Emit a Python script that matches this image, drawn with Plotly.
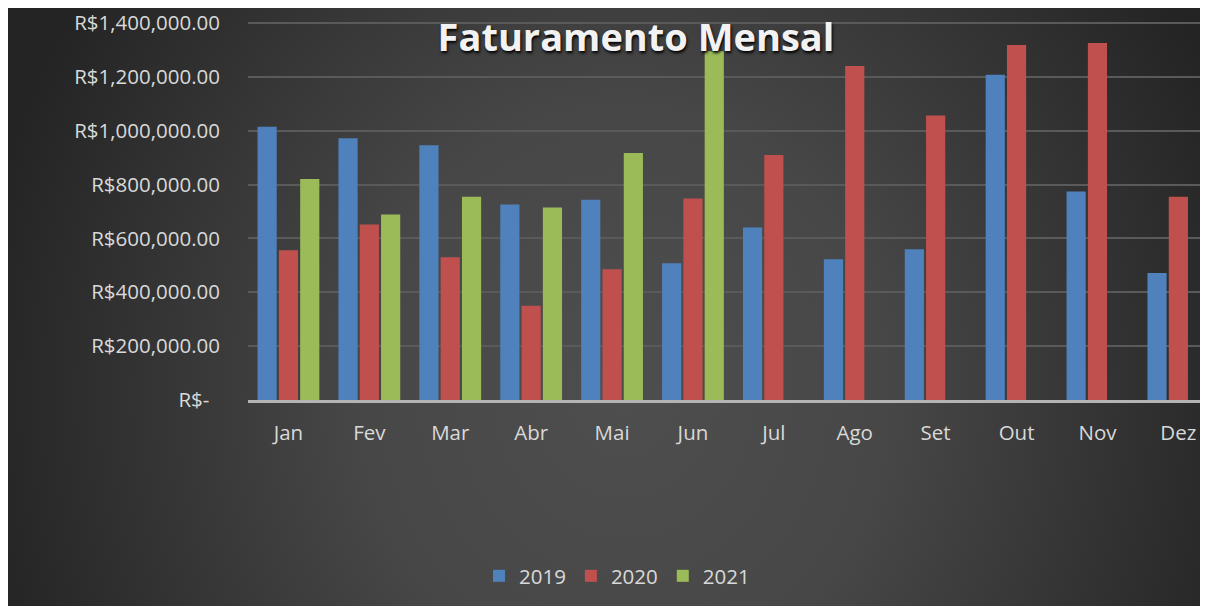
import base64
import plotly.graph_objects as go

months = ["Jan", "Fev", "Mar", "Abr", "Mai", "Jun", "Jul", "Ago", "Set", "Out", "Nov", "Dez"]
v2019 = [1015000, 972000, 946000, 726000, 744000, 508000, 641000, 523000, 560000, 1208000, 774000, 472000]
v2020 = [556000, 652000, 530000, 350000, 486000, 748000, 910000, 1241000, 1057000, 1319000, 1326000, 755000]
v2021 = [821000, 689000, 755000, 715000, 917000, 1295000, None, None, None, None, None, None]
tick_vals = [0, 200000, 400000, 600000, 800000, 1000000, 1200000, 1400000]
tick_text = ["R$-\u00a0\u00a0", "R$200,000.00", "R$400,000.00", "R$600,000.00", "R$800,000.00",
             "R$1,000,000.00", "R$1,200,000.00", "R$1,400,000.00"]

# figure is placed by the page at an 8px offset
W, H = 1192, 598
L, R, T, B = 240, 0, 14, 206
pw, ph = W - L - R, H - T - B
cat_px = 80.9

svg = """<svg xmlns='http://www.w3.org/2000/svg' width='1200' height='600' viewBox='0 0 1200 600' preserveAspectRatio='none'>
<defs><radialGradient id='g' gradientUnits='userSpaceOnUse' cx='0' cy='0' r='1' gradientTransform='translate(620 390) scale(660 720)'>
<stop offset='0' stop-color='#4e4e4e'/><stop offset='0.4' stop-color='#474747'/><stop offset='1' stop-color='#242424'/>
</radialGradient></defs><rect width='1200' height='600' fill='url(#g)'/></svg>"""
src = "data:image/svg+xml;base64," + base64.b64encode(svg.encode()).decode()

font_fam = "Open Sans"
txt_col = "#d9d9d9"
fs = 20.5

fig = go.Figure()
for name, vals, col in [("2019", v2019, "#4f81bd"), ("2020", v2020, "#c0504d"), ("2021", v2021, "#9bbb59")]:
    fig.add_trace(go.Bar(x=months, y=vals, name=name, marker=dict(color=col, line=dict(width=0))))

fig.update_layout(
    width=W, height=H,
    margin=dict(l=L, r=R, t=T, b=B, pad=0, autoexpand=False),
    paper_bgcolor="#2c2c2c",
    plot_bgcolor="rgba(0,0,0,0)",
    barmode="group", bargap=0.21, bargroupgap=0.1,
    font=dict(family=font_fam, color=txt_col, size=fs),
    title=dict(text="<b>Faturamento Mensal</b>", x=(628 - L) / pw, xref="paper", xanchor="center",
               y=1 - 29.5 / H, yref="container", yanchor="middle",
               font=dict(family=font_fam, size=38, color="#f2f2f2", shadow="1px 2px 3px #000")),
    legend=dict(orientation="h", x=(609 - L) / pw, xanchor="center", y=(T + ph - 568) / ph, yanchor="middle",
                font=dict(size=fs, color=txt_col), bgcolor="rgba(0,0,0,0)", itemwidth=30, traceorder="normal"),
    images=[dict(source=src, xref="paper", yref="paper", x=-L / pw, y=(T + ph) / ph,
                 sizex=W / pw, sizey=H / ph, xanchor="left", yanchor="top",
                 sizing="stretch", layer="below")],
    showlegend=True,
)

fig.update_xaxes(range=[-0.5, pw / cat_px - 0.5], showgrid=False, showline=True, linecolor="#b4b4b4",
                 linewidth=3, ticks="", tickfont=dict(size=fs, color=txt_col), ticklabelstandoff=12,
                 fixedrange=True, automargin=False)
fig.update_yaxes(range=[0, 1404000], tickvals=tick_vals, ticktext=tick_text, showgrid=True,
                 gridcolor="#5a5a5a", gridwidth=2, zeroline=False, showline=False, ticks="",
                 tickfont=dict(size=fs, color=txt_col), ticklabelstandoff=27, fixedrange=True,
                 automargin=False, ticklabeloverflow="allow")

fig.write_html("out.html")
